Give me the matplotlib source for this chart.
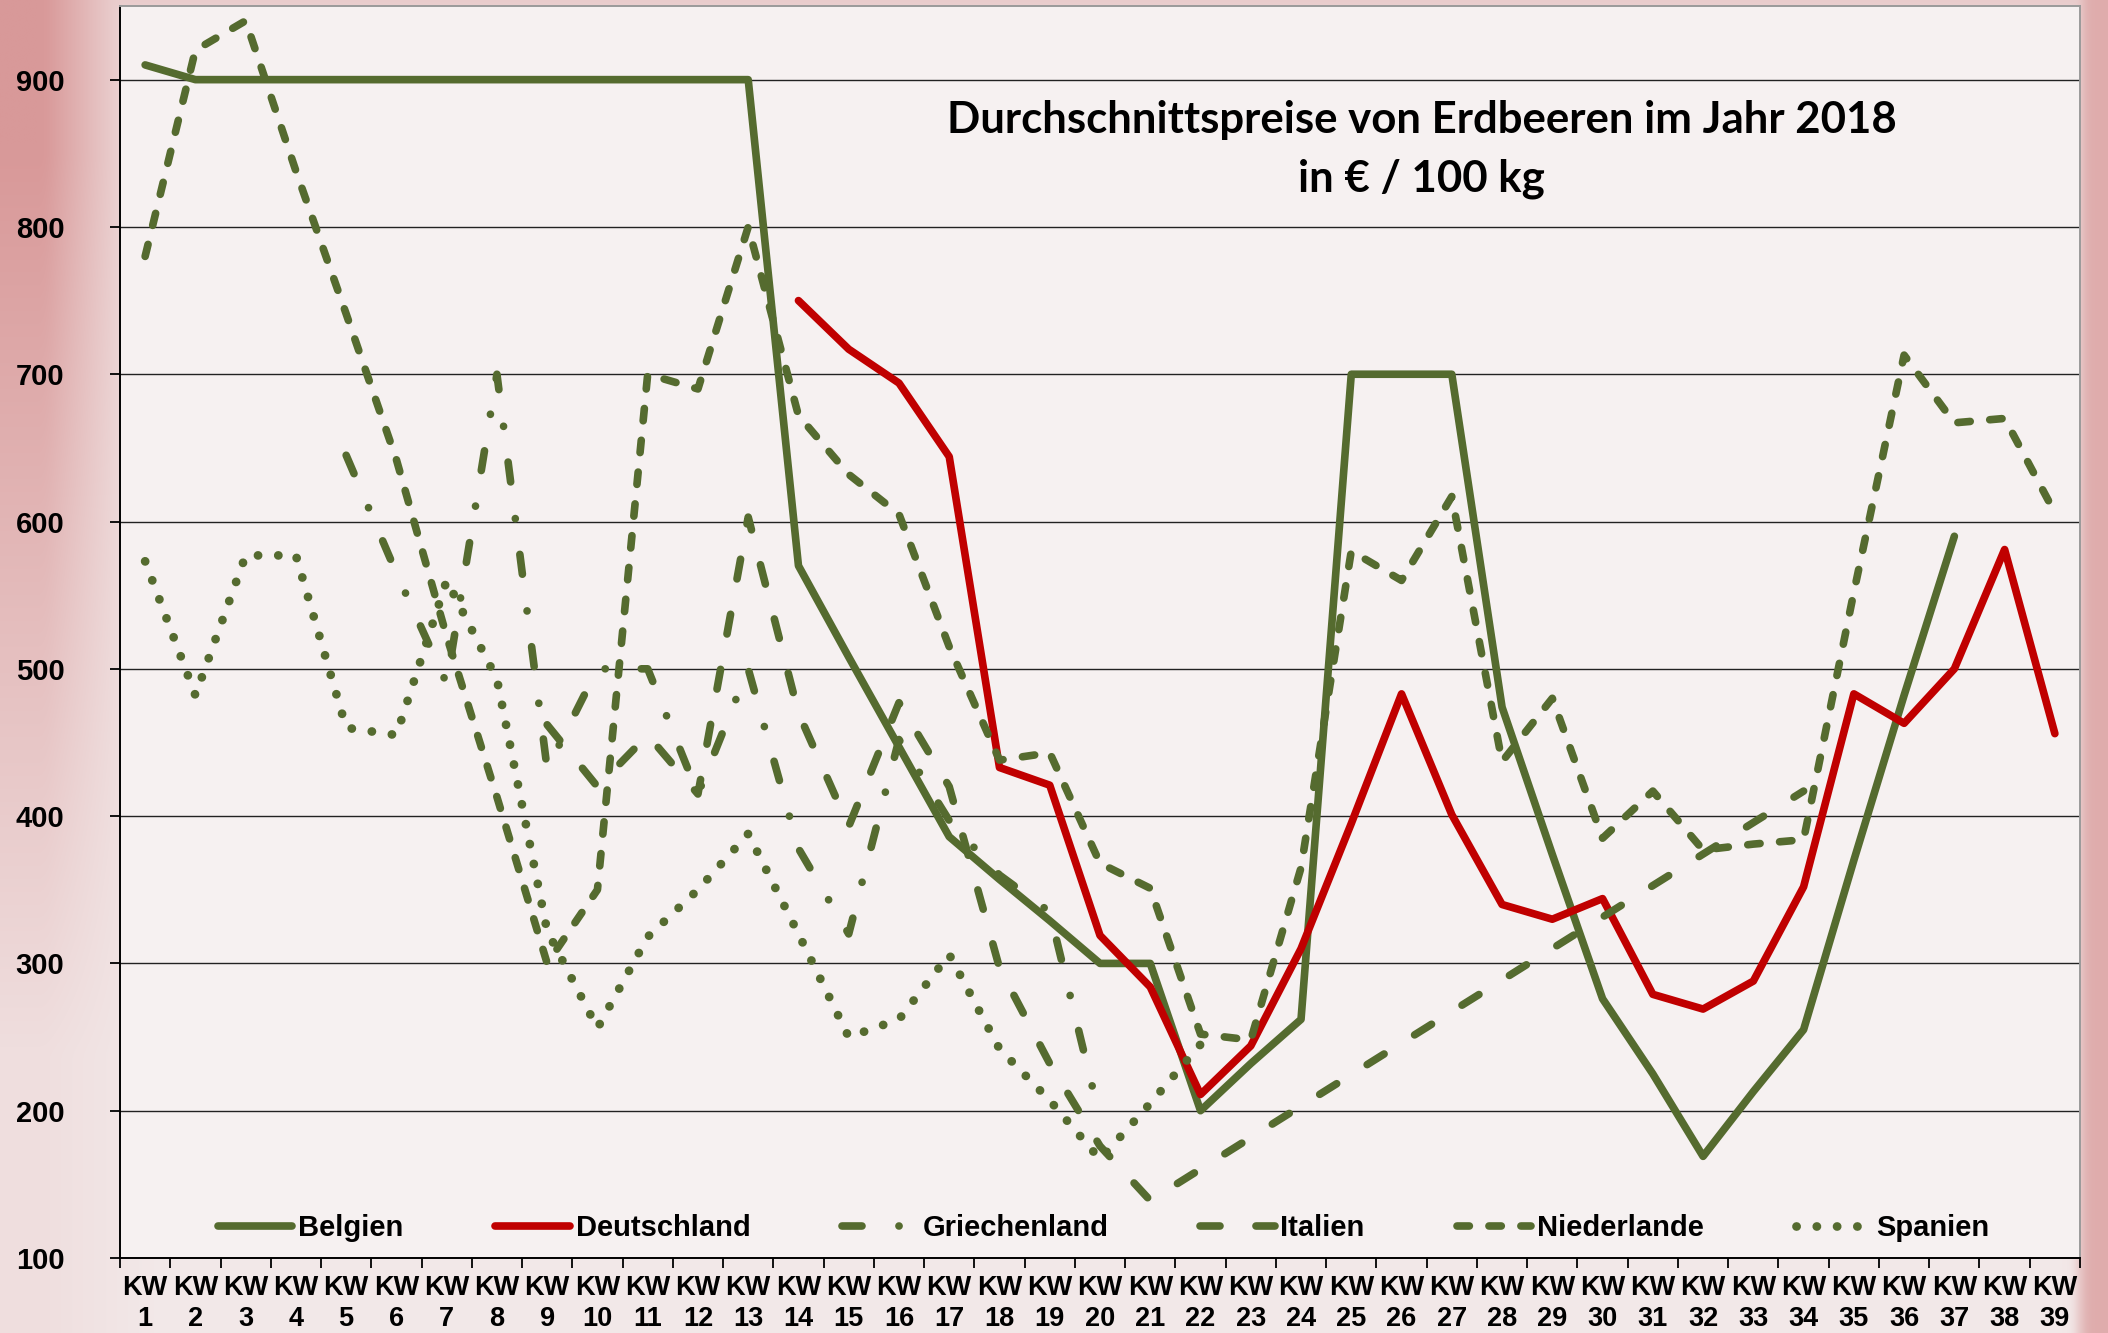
import numpy as np
import matplotlib
matplotlib.use("Agg")
import matplotlib.pyplot as plt

# Kalenderwochen 1..39
weeks = list(range(1, 40))
week_labels = ["KW\n%d" % w for w in weeks]

# Durchschnittspreise in EUR / 100 kg (None = kein Wert)
belgien = [910, 900, 900, 900, 900, 900, 900, 900, 900, 900, 900, 900, 900,
           570, 508, 447, 386, 357, 329, 300, 300, 200, 232, 262,
           700, 700, 700, 474, 374, 276, 225, 169, 213, 255, 370, 482, 590,
           None, None]
deutschland = [None] * 13 + [750, 717, 694, 644, 433, 421, 319, 284, 211, 244, 310,
                             395, 483, 401, 340, 330, 344, 279, 269, 288, 352,
                             483, 463, 500, 581, 456]
griechenland = [None] * 4 + [645, 565, 490, 700, 432, 500, 500, 415, 500, 378,
                             320, 452, 397, 360, 335, 195] + [None] * 19
italien = [None] * 8 + [462, 420, 455, 415, 603, 470, 393, 477, 420, 297, 232,
                        176, 139] + [None] * 12 + [417] + [None] * 5
niederlande = [780, 920, 940, 838, 741, 642, 522, 413, 300, 350,
               700, 690, 800, 672, 632, 605, 515, 438, 443, 368,
               351, 252, 248, 365, 580, 560, 617, 437, 480, 385,
               417, 377, 381, 384, 552, 713, 667, 670, 606]
spanien = [573, 482, 577, 577, 460, 455, 560, 493, 322, 256, 318, 350, 388,
           320, 250, 262, 306, 242, 207, 167, 205, 245] + [None] * 17

GREEN = "#556B2F"
RED = "#C00000"
LW = 5.5

plt.rcParams['lines.scale_dashes'] = False
plt.rcParams['font.family'] = ['Liberation Sans', 'DejaVu Sans']
plt.rcParams['font.weight'] = 'bold'

fig = plt.figure(figsize=(21.08, 13.33), dpi=100)
fig.patch.set_facecolor((0.94, 0.89, 0.89))

# blurry "photo" behind the chart, just a colour gradient
bg = fig.add_axes([0, 0, 1, 1], zorder=0)
yy, xx = np.mgrid[0:1:200j, 0:1:320j]
light = np.array([0.95, 0.91, 0.91])
pink = np.array([0.85, 0.60, 0.60])
w_left = np.clip((0.07 - xx) / 0.05, 0, 1) * np.clip(1.15 - 1.3 * yy, 0.12, 1)
w_right = np.clip((xx - 0.984) / 0.008, 0, 1) * 0.75
w_top = np.clip((0.02 - yy) / 0.02, 0, 1) * 0.35
wt = np.maximum(np.maximum(w_left, w_right), w_top)[..., None]
img = light * (1 - wt) + pink * wt
bg.imshow(img, aspect='auto', extent=[0, 1, 0, 1], interpolation='bicubic')
bg.axis('off')

ax = fig.add_axes([120 / 2108, 75 / 1333, 1960 / 2108, 1252 / 1333], zorder=1)
ax.set_facecolor((0.965, 0.945, 0.945))


def draw(values, color, label, dashes=None, lw=LW):
    xs = [w for w, v in zip(weeks, values) if v is not None]
    ys = [v for v in values if v is not None]
    line, = ax.plot(xs, ys, color=color, lw=lw, label=label,
                    solid_capstyle='round', dash_capstyle='round',
                    solid_joinstyle='round', dash_joinstyle='round', zorder=3)
    if dashes is not None:
        line.set_dashes(dashes)
    return line


draw(belgien, GREEN, "Belgien")
draw(deutschland, RED, "Deutschland")
draw(griechenland, GREEN, "Griechenland", (14.4, 26.6, 0.1, 25.9))
draw(italien, GREEN, "Italien", (14.4, 25.9))
draw(niederlande, GREEN, "Niederlande", (8.9, 14.1))
draw(spanien, GREEN, "Spanien", (0.1, 14.5), lw=6.3)

ax.set_xlim(0.5, 39.5)
ax.set_ylim(100, 950)

# category boundaries get the tick marks, centres get the labels
ax.set_xticks(np.arange(0.5, 40, 1))
ax.set_xticklabels([])
ax.set_xticks(weeks, minor=True)
ax.set_xticklabels(week_labels, minor=True, fontsize=19.5, fontweight='bold',
                   linespacing=1.25)
ax.tick_params(axis='x', which='major', length=7, width=1.3, direction='out')
ax.tick_params(axis='x', which='minor', length=0, pad=12)

ax.set_yticks(range(100, 1000, 100))
ax.set_yticklabels([str(v) for v in range(100, 1000, 100)], fontsize=21, fontweight='bold')
ax.tick_params(axis='y', length=7, width=1.3, direction='out', pad=33)

ax.yaxis.grid(True, color='#222222', lw=1.0)
ax.set_axisbelow(True)

for side in ['left', 'bottom']:
    ax.spines[side].set_color('black')
    ax.spines[side].set_linewidth(1.4)
for side in ['top', 'right']:
    ax.spines[side].set_color('#9a9a9a')
    ax.spines[side].set_linewidth(1.4)

# title
ax.text(0.664, 0.909, "Durchschnittspreise von Erdbeeren im Jahr 2018",
        transform=ax.transAxes, ha='center', va='center', fontsize=31.5,
        fontweight='bold', family=['Lato', 'DejaVu Sans'], zorder=5)
ax.text(0.664, 0.862, "in € / 100 kg",
        transform=ax.transAxes, ha='center', va='center', fontsize=31.5,
        fontweight='bold', family=['Lato', 'DejaVu Sans'], zorder=5)

leg = ax.legend(loc='center left', bbox_to_anchor=(0.05, 0.024), ncol=6,
                frameon=False, fontsize=21, handlelength=2.55,
                handletextpad=0.2, columnspacing=3.15, borderpad=0,
                borderaxespad=0)
for t in leg.get_texts():
    t.set_fontweight('bold')

fig.savefig("out.png", dpi=100, facecolor=fig.get_facecolor())
